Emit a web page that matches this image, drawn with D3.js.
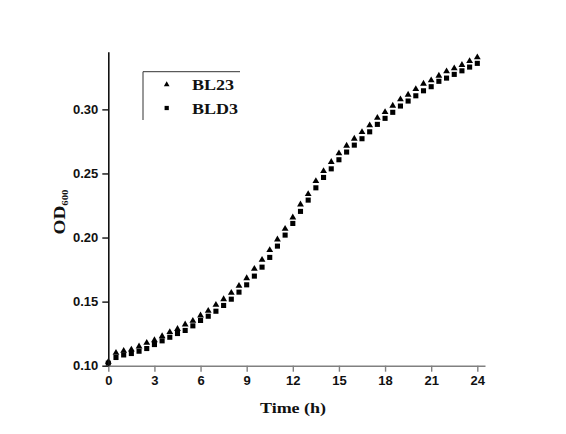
<!DOCTYPE html>
<html>
<head>
<meta charset="utf-8">
<script src="https://cdn.jsdelivr.net/npm/d3@7"></script>
<style>
  body { margin: 0; background: #fff; }
  .tick text { font-family: "Liberation Sans", Arial, sans-serif; font-weight: bold; font-size: 13px; fill: #111; }
  .serif { font-family: "Liberation Serif", "Times New Roman", serif; font-weight: bold; fill: #111; }
</style>
</head>
<body>
<svg width="566" height="434"></svg>
<script>
const times = d3.range(49).map(i => i * 0.5) // 0, 0.5, ... 24 h

const bl23 = [0.103, 0.110, 0.1116, 0.1126, 0.115, 0.1178, 0.1199, 0.123, 0.1262, 0.1287,
  0.1322, 0.135, 0.1392, 0.1428, 0.1475, 0.1519, 0.1568, 0.1623, 0.1683, 0.1756,
  0.1826, 0.1902, 0.1985, 0.2068, 0.2157, 0.2258, 0.2339, 0.244, 0.2518, 0.2589,
  0.2657, 0.2716, 0.2771, 0.2823, 0.2875, 0.2934, 0.2979, 0.3028, 0.3078, 0.3114,
  0.3158, 0.320, 0.3226, 0.3262, 0.3297, 0.332, 0.3346, 0.3377, 0.3406]

const bld3 = [0.102, 0.1064, 0.1084, 0.1095, 0.1113, 0.1134, 0.1165, 0.1194, 0.1222, 0.1251,
  0.1275, 0.1311, 0.1353, 0.1386, 0.1425, 0.147, 0.1519, 0.1574, 0.1631, 0.1699,
  0.1769, 0.1845, 0.1933, 0.2019, 0.211, 0.2204, 0.2292, 0.2388, 0.2469, 0.2536,
  0.2607, 0.2667, 0.2721, 0.2771, 0.2825, 0.2883, 0.293, 0.2977, 0.3026, 0.3065,
  0.3106, 0.3145, 0.3177, 0.3219, 0.3244, 0.3273, 0.3301, 0.333, 0.3359]

const xTicks = [0, 3, 6, 9, 12, 15, 18, 21, 24]
const yTicks = [0.10, 0.15, 0.20, 0.25, 0.30]
const seriesNames = ["BL23", "BLD3"]

const svg = d3.select("svg")

const x = d3.scaleLinear().domain([0, 24.5]).range([108.3, 485]),
      y = d3.scaleLinear().domain([0.10, 0.345]).range([365.7, 51.7])

const square = d3.symbol().type(d3.symbolSquare).size(26),
      triangle = d3.symbol().type(d3.symbolTriangle).size(20)

// squares first, triangles on top
svg.append("g").selectAll("path")
  .data(bld3)
  .enter().append("path")
    .attr("d", square)
    .attr("transform", (d, i) => "translate(" + x(times[i]) + "," + y(d) + ")")
    .style("fill", "#000")

svg.append("g").selectAll("path")
  .data(bl23)
  .enter().append("path")
    .attr("d", triangle)
    .attr("transform", (d, i) => "translate(" + x(times[i]) + "," + y(d) + ")")
    .style("fill", "#000")

// x axis (grey)
const xAxis = svg.append("g")
  .attr("transform", "translate(0," + y(0.10) + ")")
  .call(d3.axisBottom(x).tickValues(xTicks).tickSize(6).tickPadding(4).tickSizeOuter(0))
xAxis.select(".domain").style("stroke", "#808080").style("stroke-width", 1.6)
xAxis.selectAll(".tick line").style("stroke", "#808080").style("stroke-width", 1.4)

// y axis (black)
const yAxis = svg.append("g")
  .attr("transform", "translate(" + x(0) + ",0)")
  .call(d3.axisLeft(y).tickValues(yTicks).tickFormat(d3.format(".2f")).tickSize(6).tickPadding(4).tickSizeOuter(0))
yAxis.select(".domain").style("stroke", "#111").style("stroke-width", 1.6)
yAxis.selectAll(".tick line").style("stroke", "#111").style("stroke-width", 1.4)

// axis titles (the original type is a little stretched sideways)
svg.append("text")
  .attr("class", "serif")
  .attr("transform", "translate(293,413) scale(1.2,1)")
  .attr("text-anchor", "middle")
  .style("font-size", "15px")
  .text("Time (h)")

const yTitle = svg.append("text")
  .attr("class", "serif")
  .attr("transform", "translate(65,212) rotate(-90) scale(1.2,1)")
  .attr("text-anchor", "middle")
  .style("font-size", "16px")
yTitle.append("tspan").text("OD")
yTitle.append("tspan").attr("dy", 3).style("font-size", "9px").text("600")

// legend: top and left border only
const legend = svg.append("g")
legend.append("path")
  .attr("d", "M240,71.7H143V120")
  .style("fill", "none").style("stroke", "#333").style("stroke-width", 1)

const legendSymbols = [triangle, square]
seriesNames.forEach(function (name, i) {
  legend.append("path")
    .attr("d", legendSymbols[i].size(i === 0 ? 14 : 18)())
    .attr("transform", "translate(166.7," + (84.5 + i * 23.5) + ")")
    .style("fill", "#000")
  legend.append("text")
    .attr("class", "serif")
    .attr("transform", "translate(192," + (90 + i * 23.5) + ") scale(1.2,1)")
    .style("font-size", "15px")
    .text(name)
})
</script>
</body>
</html>
